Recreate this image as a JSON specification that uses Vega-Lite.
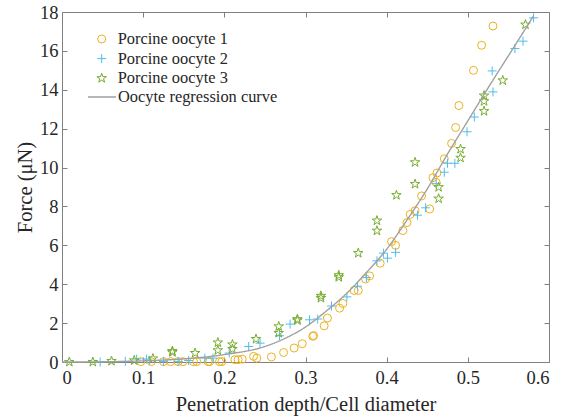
{
  "$schema": "https://vega.github.io/schema/vega-lite/v6.json",
  "width": 487,
  "height": 350,
  "autosize": {"type": "none"},
  "padding": {"left": 62, "top": 12, "right": 20, "bottom": 56},
  "background": "white",
  "config": {
    "view": {"stroke": null},
    "font": "Liberation Serif, Times New Roman, serif",
    "text": {"font": "Liberation Serif, Times New Roman, serif"},
    "legend": {"labelFont": "Liberation Serif, Times New Roman, serif"},
    "axis": {
      "grid": false,
      "domainColor": "#808080",
      "domainWidth": 1,
      "tickColor": "#808080",
      "tickWidth": 1,
      "tickSize": -5,
      "labelFont": "Liberation Serif, Times New Roman, serif",
      "labelFontSize": 18.5,
      "labelColor": "#262626",
      "titleFont": "Liberation Serif, Times New Roman, serif",
      "titleFontSize": 20.5,
      "titleFontWeight": "normal",
      "titleColor": "#262626"
    }
  },
  "datasets": {
    "points": [
      {"x": 0.097, "y": 0.02, "series": "Porcine oocyte 1"},
      {"x": 0.110, "y": 0.02, "series": "Porcine oocyte 1"},
      {"x": 0.125, "y": 0.02, "series": "Porcine oocyte 1"},
      {"x": 0.134, "y": 0.02, "series": "Porcine oocyte 1"},
      {"x": 0.143, "y": 0.02, "series": "Porcine oocyte 1"},
      {"x": 0.149, "y": 0.02, "series": "Porcine oocyte 1"},
      {"x": 0.162, "y": 0.02, "series": "Porcine oocyte 1"},
      {"x": 0.166, "y": 0.02, "series": "Porcine oocyte 1"},
      {"x": 0.180, "y": 0.02, "series": "Porcine oocyte 1"},
      {"x": 0.182, "y": 0.02, "series": "Porcine oocyte 1"},
      {"x": 0.194, "y": 0.02, "series": "Porcine oocyte 1"},
      {"x": 0.197, "y": 0.02, "series": "Porcine oocyte 1"},
      {"x": 0.213, "y": 0.12, "series": "Porcine oocyte 1"},
      {"x": 0.217, "y": 0.12, "series": "Porcine oocyte 1"},
      {"x": 0.222, "y": 0.15, "series": "Porcine oocyte 1"},
      {"x": 0.236, "y": 0.29, "series": "Porcine oocyte 1"},
      {"x": 0.240, "y": 0.2, "series": "Porcine oocyte 1"},
      {"x": 0.258, "y": 0.26, "series": "Porcine oocyte 1"},
      {"x": 0.273, "y": 0.49, "series": "Porcine oocyte 1"},
      {"x": 0.286, "y": 0.72, "series": "Porcine oocyte 1"},
      {"x": 0.296, "y": 0.94, "series": "Porcine oocyte 1"},
      {"x": 0.309, "y": 1.32, "series": "Porcine oocyte 1"},
      {"x": 0.310, "y": 1.36, "series": "Porcine oocyte 1"},
      {"x": 0.323, "y": 1.86, "series": "Porcine oocyte 1"},
      {"x": 0.327, "y": 2.26, "series": "Porcine oocyte 1"},
      {"x": 0.342, "y": 2.77, "series": "Porcine oocyte 1"},
      {"x": 0.346, "y": 3.01, "series": "Porcine oocyte 1"},
      {"x": 0.360, "y": 3.68, "series": "Porcine oocyte 1"},
      {"x": 0.365, "y": 3.68, "series": "Porcine oocyte 1"},
      {"x": 0.374, "y": 4.27, "series": "Porcine oocyte 1"},
      {"x": 0.379, "y": 4.43, "series": "Porcine oocyte 1"},
      {"x": 0.392, "y": 5.08, "series": "Porcine oocyte 1"},
      {"x": 0.406, "y": 6.19, "series": "Porcine oocyte 1"},
      {"x": 0.411, "y": 6.0, "series": "Porcine oocyte 1"},
      {"x": 0.420, "y": 6.76, "series": "Porcine oocyte 1"},
      {"x": 0.425, "y": 7.17, "series": "Porcine oocyte 1"},
      {"x": 0.429, "y": 7.59, "series": "Porcine oocyte 1"},
      {"x": 0.435, "y": 7.78, "series": "Porcine oocyte 1"},
      {"x": 0.453, "y": 7.87, "series": "Porcine oocyte 1"},
      {"x": 0.443, "y": 8.54, "series": "Porcine oocyte 1"},
      {"x": 0.457, "y": 9.48, "series": "Porcine oocyte 1"},
      {"x": 0.462, "y": 9.72, "series": "Porcine oocyte 1"},
      {"x": 0.461, "y": 9.24, "series": "Porcine oocyte 1"},
      {"x": 0.471, "y": 10.45, "series": "Porcine oocyte 1"},
      {"x": 0.480, "y": 11.24, "series": "Porcine oocyte 1"},
      {"x": 0.485, "y": 12.06, "series": "Porcine oocyte 1"},
      {"x": 0.489, "y": 13.19, "series": "Porcine oocyte 1"},
      {"x": 0.507, "y": 15.0, "series": "Porcine oocyte 1"},
      {"x": 0.517, "y": 16.29, "series": "Porcine oocyte 1"},
      {"x": 0.531, "y": 17.28, "series": "Porcine oocyte 1"},

      {"x": 0.047, "y": 0.0, "series": "Porcine oocyte 2"},
      {"x": 0.078, "y": 0.03, "series": "Porcine oocyte 2"},
      {"x": 0.092, "y": 0.15, "series": "Porcine oocyte 2"},
      {"x": 0.104, "y": 0.15, "series": "Porcine oocyte 2"},
      {"x": 0.108, "y": 0.08, "series": "Porcine oocyte 2"},
      {"x": 0.125, "y": 0.03, "series": "Porcine oocyte 2"},
      {"x": 0.143, "y": 0.03, "series": "Porcine oocyte 2"},
      {"x": 0.156, "y": 0.08, "series": "Porcine oocyte 2"},
      {"x": 0.176, "y": 0.2, "series": "Porcine oocyte 2"},
      {"x": 0.186, "y": 0.2, "series": "Porcine oocyte 2"},
      {"x": 0.206, "y": 0.46, "series": "Porcine oocyte 2"},
      {"x": 0.230, "y": 0.8, "series": "Porcine oocyte 2"},
      {"x": 0.244, "y": 0.97, "series": "Porcine oocyte 2"},
      {"x": 0.268, "y": 1.35, "series": "Porcine oocyte 2"},
      {"x": 0.281, "y": 1.95, "series": "Porcine oocyte 2"},
      {"x": 0.305, "y": 2.17, "series": "Porcine oocyte 2"},
      {"x": 0.315, "y": 2.21, "series": "Porcine oocyte 2"},
      {"x": 0.332, "y": 2.88, "series": "Porcine oocyte 2"},
      {"x": 0.351, "y": 3.35, "series": "Porcine oocyte 2"},
      {"x": 0.364, "y": 3.9, "series": "Porcine oocyte 2"},
      {"x": 0.375, "y": 4.34, "series": "Porcine oocyte 2"},
      {"x": 0.388, "y": 5.2, "series": "Porcine oocyte 2"},
      {"x": 0.396, "y": 5.6, "series": "Porcine oocyte 2"},
      {"x": 0.401, "y": 5.34, "series": "Porcine oocyte 2"},
      {"x": 0.411, "y": 5.64, "series": "Porcine oocyte 2"},
      {"x": 0.438, "y": 7.55, "series": "Porcine oocyte 2"},
      {"x": 0.448, "y": 7.93, "series": "Porcine oocyte 2"},
      {"x": 0.461, "y": 9.17, "series": "Porcine oocyte 2"},
      {"x": 0.471, "y": 9.76, "series": "Porcine oocyte 2"},
      {"x": 0.475, "y": 10.22, "series": "Porcine oocyte 2"},
      {"x": 0.484, "y": 10.22, "series": "Porcine oocyte 2"},
      {"x": 0.499, "y": 11.84, "series": "Porcine oocyte 2"},
      {"x": 0.508, "y": 12.6, "series": "Porcine oocyte 2"},
      {"x": 0.531, "y": 13.89, "series": "Porcine oocyte 2"},
      {"x": 0.530, "y": 14.97, "series": "Porcine oocyte 2"},
      {"x": 0.558, "y": 16.12, "series": "Porcine oocyte 2"},
      {"x": 0.568, "y": 16.5, "series": "Porcine oocyte 2"},
      {"x": 0.581, "y": 17.7, "series": "Porcine oocyte 2"},

      {"x": 0.009, "y": 0.0, "series": "Porcine oocyte 3"},
      {"x": 0.038, "y": 0.0, "series": "Porcine oocyte 3"},
      {"x": 0.061, "y": 0.05, "series": "Porcine oocyte 3"},
      {"x": 0.089, "y": 0.08, "series": "Porcine oocyte 3"},
      {"x": 0.112, "y": 0.18, "series": "Porcine oocyte 3"},
      {"x": 0.136, "y": 0.56, "series": "Porcine oocyte 3"},
      {"x": 0.136, "y": 0.5, "series": "Porcine oocyte 3"},
      {"x": 0.164, "y": 0.46, "series": "Porcine oocyte 3"},
      {"x": 0.192, "y": 1.0, "series": "Porcine oocyte 3"},
      {"x": 0.192, "y": 0.6, "series": "Porcine oocyte 3"},
      {"x": 0.210, "y": 0.9, "series": "Porcine oocyte 3"},
      {"x": 0.210, "y": 0.67, "series": "Porcine oocyte 3"},
      {"x": 0.239, "y": 1.18, "series": "Porcine oocyte 3"},
      {"x": 0.267, "y": 1.83, "series": "Porcine oocyte 3"},
      {"x": 0.267, "y": 1.49, "series": "Porcine oocyte 3"},
      {"x": 0.290, "y": 2.2, "series": "Porcine oocyte 3"},
      {"x": 0.290, "y": 2.14, "series": "Porcine oocyte 3"},
      {"x": 0.319, "y": 3.4, "series": "Porcine oocyte 3"},
      {"x": 0.319, "y": 3.29, "series": "Porcine oocyte 3"},
      {"x": 0.341, "y": 4.46, "series": "Porcine oocyte 3"},
      {"x": 0.341, "y": 4.36, "series": "Porcine oocyte 3"},
      {"x": 0.365, "y": 5.6, "series": "Porcine oocyte 3"},
      {"x": 0.388, "y": 7.27, "series": "Porcine oocyte 3"},
      {"x": 0.388, "y": 6.75, "series": "Porcine oocyte 3"},
      {"x": 0.412, "y": 8.58, "series": "Porcine oocyte 3"},
      {"x": 0.435, "y": 10.27, "series": "Porcine oocyte 3"},
      {"x": 0.435, "y": 9.15, "series": "Porcine oocyte 3"},
      {"x": 0.464, "y": 8.99, "series": "Porcine oocyte 3"},
      {"x": 0.464, "y": 8.4, "series": "Porcine oocyte 3"},
      {"x": 0.491, "y": 10.95, "series": "Porcine oocyte 3"},
      {"x": 0.491, "y": 10.5, "series": "Porcine oocyte 3"},
      {"x": 0.520, "y": 13.7, "series": "Porcine oocyte 3"},
      {"x": 0.520, "y": 13.41, "series": "Porcine oocyte 3"},
      {"x": 0.520, "y": 12.9, "series": "Porcine oocyte 3"},
      {"x": 0.543, "y": 14.48, "series": "Porcine oocyte 3"},
      {"x": 0.571, "y": 17.35, "series": "Porcine oocyte 3"}
    ],
    "curve": [
      {"x": 0.0, "y": 0.0, "series": "Oocyte regression curve"},
      {"x": 0.05, "y": 0.01, "series": "Oocyte regression curve"},
      {"x": 0.1, "y": 0.06, "series": "Oocyte regression curve"},
      {"x": 0.15, "y": 0.16, "series": "Oocyte regression curve"},
      {"x": 0.2, "y": 0.38, "series": "Oocyte regression curve"},
      {"x": 0.25, "y": 0.8, "series": "Oocyte regression curve"},
      {"x": 0.275, "y": 1.22, "series": "Oocyte regression curve"},
      {"x": 0.3, "y": 1.8, "series": "Oocyte regression curve"},
      {"x": 0.325, "y": 2.6, "series": "Oocyte regression curve"},
      {"x": 0.35, "y": 3.5, "series": "Oocyte regression curve"},
      {"x": 0.375, "y": 4.6, "series": "Oocyte regression curve"},
      {"x": 0.4, "y": 5.8, "series": "Oocyte regression curve"},
      {"x": 0.425, "y": 7.3, "series": "Oocyte regression curve"},
      {"x": 0.45, "y": 8.9, "series": "Oocyte regression curve"},
      {"x": 0.475, "y": 10.7, "series": "Oocyte regression curve"},
      {"x": 0.5, "y": 12.4, "series": "Oocyte regression curve"},
      {"x": 0.525, "y": 14.1, "series": "Oocyte regression curve"},
      {"x": 0.55, "y": 15.75, "series": "Oocyte regression curve"},
      {"x": 0.581, "y": 17.8, "series": "Oocyte regression curve"}
    ]
  },
  "resolve": {"axis": {"x": "independent", "y": "independent"}},
  "layer": [
    {
      "data": {"name": "points"},
      "mark": {"type": "point", "filled": false, "strokeWidth": 1, "opacity": 1},
      "encoding": {
        "x": {
          "field": "x", "type": "quantitative",
          "scale": {"domain": [0, 0.6], "nice": false, "zero": false},
          "axis": {
            "orient": "bottom",
            "values": [0, 0.1, 0.2, 0.3, 0.4, 0.5, 0.6],
            "format": "~g",
            "labelPadding": 11,
            "title": "Penetration depth/Cell diameter",
            "titleY": 48,
            "titleBaseline": "alphabetic"
          }
        },
        "y": {
          "field": "y", "type": "quantitative",
          "scale": {"domain": [0, 18], "nice": false},
          "axis": {
            "orient": "left",
            "values": [0, 2, 4, 6, 8, 10, 12, 14, 16, 18],
            "labelPadding": 9,
            "title": "Force (μN)",
            "titleX": -31,
            "titleY": 175,
            "titleAngle": -90,
            "titleAlign": "center",
            "titleBaseline": "alphabetic"
          }
        },
        "color": {
          "field": "series", "type": "nominal",
          "scale": {
            "domain": ["Porcine oocyte 1", "Porcine oocyte 2", "Porcine oocyte 3"],
            "range": ["#EDB120", "#4DBEEE", "#77AC30"]
          },
          "legend": {
            "orient": "none",
            "legendX": 31.5,
            "legendY": 18.8,
            "padding": 0,
            "title": null,
            "labelFont": "Liberation Serif, Times New Roman, serif",
            "labelFontSize": 16.4,
            "labelColor": "#262626",
            "labelOffset": 7.8,
            "labelLimit": 400,
            "rowPadding": 2.6,
            "symbolSize": 72,
            "symbolStrokeWidth": 1
          }
        },
        "shape": {
          "field": "series", "type": "nominal",
          "scale": {
            "domain": ["Porcine oocyte 1", "Porcine oocyte 2", "Porcine oocyte 3"],
            "range": ["circle", "M-1,0L1,0M0,-1L0,1", "M0,-1L0.225,-0.309L0.951,-0.309L0.363,0.118L0.588,0.809L0,0.382L-0.588,0.809L-0.363,0.118L-0.951,-0.309L-0.225,-0.309Z"]
          }
        },
        "size": {
          "field": "series", "type": "nominal",
          "scale": {
            "domain": ["Porcine oocyte 1", "Porcine oocyte 2", "Porcine oocyte 3"],
            "range": [64, 100, 64]
          },
          "legend": null
        }
      }
    },
    {
      "data": {"name": "curve"},
      "mark": {"type": "line", "strokeWidth": 1.4, "interpolate": "monotone", "color": "#a0a0a0"},
      "encoding": {
        "x": {
          "field": "x", "type": "quantitative",
          "scale": {"domain": [0, 0.6], "nice": false, "zero": false},
          "axis": {"orient": "top", "values": [0, 0.1, 0.2, 0.3, 0.4, 0.5, 0.6], "labels": false, "title": null}
        },
        "y": {
          "field": "y", "type": "quantitative",
          "scale": {"domain": [0, 18], "nice": false},
          "axis": {"orient": "right", "values": [0, 2, 4, 6, 8, 10, 12, 14, 16, 18], "labels": false, "title": null}
        },
        "strokeDash": {
          "field": "series", "type": "nominal",
          "scale": {"domain": ["Oocyte regression curve"], "range": [[1, 0]]},
          "legend": {
            "orient": "none",
            "legendX": 25,
            "legendY": 70,
            "padding": 0,
            "title": null,
            "labelFont": "Liberation Serif, Times New Roman, serif",
            "labelFontSize": 16.4,
            "labelColor": "#262626",
            "labelOffset": 1,
            "labelLimit": 400,
            "symbolType": "stroke",
            "symbolSize": 784,
            "symbolStrokeWidth": 1.4,
            "symbolStrokeColor": "#a0a0a0"
          }
        }
      }
    }
  ]
}
